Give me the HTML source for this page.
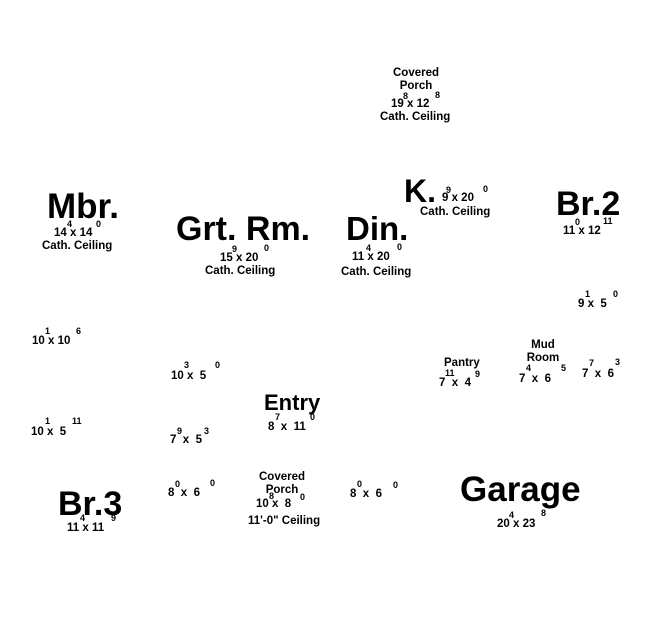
<!DOCTYPE html>
<html><head><meta charset="utf-8"><style>
html,body{margin:0;padding:0;background:#fff;}
svg{display:block;font-family:"Liberation Sans",Arial,sans-serif;font-weight:bold;fill:#000;}
text{white-space:pre;}
.b{font-size:34px}.s{font-size:11.5px}.u{font-size:9px}
</style></head><body>
<svg width="653" height="644" viewBox="0 0 653 644" xmlns="http://www.w3.org/2000/svg" xml:space="preserve">
<text class="b" x="47" y="218" style="font-size:35px">Mbr.</text>
<text class="s" x="54" y="236">14 x 14</text><text class="u" x="67" y="227">4</text><text class="u" x="96" y="227">0</text>
<text class="s" x="42" y="249">Cath. Ceiling</text>
<text class="b" x="176" y="240">Grt. Rm.</text>
<text class="s" x="220" y="261">15 x 20</text><text class="u" x="232" y="252">9</text><text class="u" x="264" y="251">0</text>
<text class="s" x="205" y="274">Cath. Ceiling</text>
<text class="s" x="416" y="76" text-anchor="middle">Covered</text>
<text class="s" x="416" y="89" text-anchor="middle">Porch</text>
<text class="s" x="391" y="107">19 x 12</text><text class="u" x="403" y="99">8</text><text class="u" x="435" y="98">8</text>
<text class="s" x="380" y="120">Cath. Ceiling</text>
<text x="404" y="202" style="font-size:32px">K.</text>
<text class="s" x="442" y="201">9 x 20</text><text class="u" x="446" y="193">9</text><text class="u" x="483" y="192">0</text>
<text class="s" x="420" y="215">Cath. Ceiling</text>
<text class="b" x="346" y="240" style="font-size:33px">Din.</text>
<text class="s" x="352" y="260">11 x 20</text><text class="u" x="366" y="251">4</text><text class="u" x="397" y="250">0</text>
<text class="s" x="341" y="275">Cath. Ceiling</text>
<text class="b" x="556" y="215">Br.2</text>
<text class="s" x="563" y="234">11 x 12</text><text class="u" x="575" y="225">0</text><text class="u" x="603" y="224">11</text>
<text class="s" x="578" y="307">9 x  5</text><text class="u" x="585" y="297">1</text><text class="u" x="613" y="297">0</text>
<text class="s" x="444" y="366">Pantry</text>
<text class="s" x="439" y="386">7  x  4</text><text class="u" x="445" y="376">11</text><text class="u" x="475" y="377">9</text>
<text class="s" x="543" y="348" text-anchor="middle">Mud</text>
<text class="s" x="543" y="361" text-anchor="middle">Room</text>
<text class="s" x="519" y="382">7  x  6</text><text class="u" x="526" y="371">4</text><text class="u" x="561" y="371">5</text>
<text class="s" x="582" y="377">7  x  6</text><text class="u" x="589" y="366">7</text><text class="u" x="615" y="365">3</text>
<text class="s" x="32" y="344">10 x 10</text><text class="u" x="45" y="334">1</text><text class="u" x="76" y="334">6</text>
<text class="s" x="171" y="379">10 x  5</text><text class="u" x="184" y="368">3</text><text class="u" x="215" y="368">0</text>
<text x="264" y="410" style="font-size:22px">Entry</text>
<text class="s" x="268" y="430">8  x  11</text><text class="u" x="275" y="420">7</text><text class="u" x="310" y="420">0</text>
<text class="s" x="31" y="435">10 x  5</text><text class="u" x="45" y="424">1</text><text class="u" x="72" y="424">11</text>
<text class="s" x="170" y="443">7  x  5</text><text class="u" x="177" y="434">9</text><text class="u" x="204" y="434">3</text>
<text class="s" x="168" y="496">8  x  6</text><text class="u" x="175" y="487">0</text><text class="u" x="210" y="486">0</text>
<text class="b" x="58" y="515">Br.3</text>
<text class="s" x="67" y="531">11 x 11</text><text class="u" x="80" y="521">4</text><text class="u" x="111" y="521">9</text>
<text class="s" x="282" y="480" text-anchor="middle">Covered</text>
<text class="s" x="282" y="493" text-anchor="middle">Porch</text>
<text class="s" x="256" y="507">10 x  8</text><text class="u" x="269" y="499">8</text><text class="u" x="300" y="500">0</text>
<text class="s" x="248" y="524">11'-0" Ceiling</text>
<text class="s" x="350" y="497">8  x  6</text><text class="u" x="357" y="487">0</text><text class="u" x="393" y="488">0</text>
<text x="460" y="501" style="font-size:35px">Garage</text>
<text class="s" x="497" y="527">20 x 23</text><text class="u" x="509" y="518">4</text><text class="u" x="541" y="516">8</text>
</svg>
</body></html>
